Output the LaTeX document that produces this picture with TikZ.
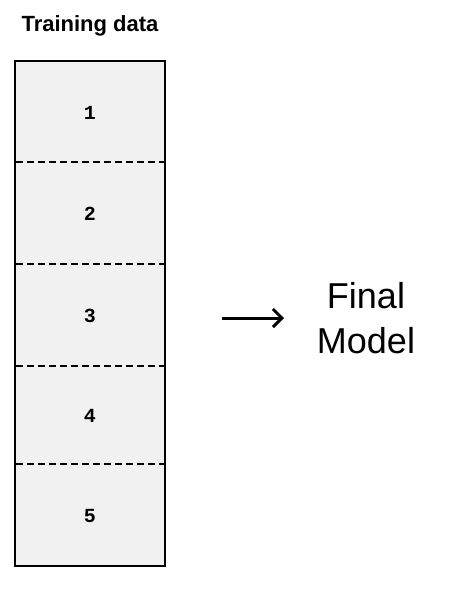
\documentclass[tikz,border=0pt]{standalone}
\usepackage{fontspec}
\setmainfont{Liberation Sans}
\newfontfamily\monof{Liberation Mono}
\usetikzlibrary{arrows.meta}
\definecolor{foldfill}{RGB}{241,241,241}
\tikzset{
  foldbox/.style={draw=black, line width=2.5pt, fill=foldfill},
  divider/.style={line width=2pt, dash pattern=on 7pt off 4pt},
  foldnum/.style={font=\monof\bfseries\fontsize{20}{22}\selectfont, inner sep=0pt},
  flow/.style={line width=3pt, -{Straight Barb[length=9pt,width=18pt,line width=3pt]}},
}
\begin{document}
\begin{tikzpicture}[x=1pt,y=-1pt]
\useasboundingbox (0,0) rectangle (466,592);
\node[font=\bfseries\fontsize{22}{26}\selectfont, anchor=base, inner sep=0pt] (title) at (90,31) {Training data};
\draw[foldbox] (15,61) rectangle (165,566);
\coordinate (d1l) at (16,162); \coordinate (d1r) at (164,162);
\coordinate (d2l) at (16,264); \coordinate (d2r) at (164,264);
\coordinate (d3l) at (16,366); \coordinate (d3r) at (164,366);
\coordinate (d4l) at (16,464); \coordinate (d4r) at (164,464);
\draw[divider] (d1l) -- (d1r);
\draw[divider] (d2l) -- (d2r);
\draw[divider] (d3l) -- (d3r);
\draw[divider] (d4l) -- (d4r);
\node[foldnum] (f1) at (90,113) {1};
\node[foldnum] (f2) at (90,214) {2};
\node[foldnum] (f3) at (90,316) {3};
\node[foldnum] (f4) at (90,416) {4};
\node[foldnum] (f5) at (90,516) {5};
\node[font=\fontsize{36}{45}\selectfont, align=center, inner sep=0pt] (model) at (366,318) {Final\\Model};
\coordinate (as) at (222,318);
\coordinate (ae) at (284,318);
\draw[flow] (as) -- (ae);
\end{tikzpicture}
\end{document}
